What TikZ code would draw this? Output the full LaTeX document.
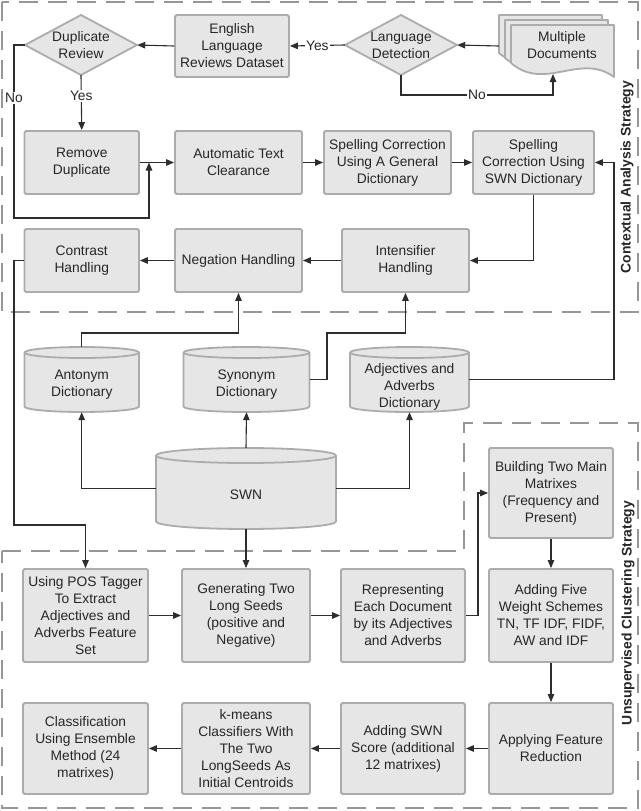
\documentclass[tikz,border=0pt]{standalone}
\usepackage{fontspec}
\setmainfont{Liberation Sans}
\usetikzlibrary{arrows.meta,calc}
\definecolor{boxfill}{RGB}{230,230,230}
\definecolor{boxline}{RGB}{172,172,172}
\definecolor{txt}{RGB}{38,38,38}
\definecolor{arr}{RGB}{45,45,45}
\definecolor{dashc}{RGB}{150,150,150}
\newcommand\mydiam[4]{% cx cy hw hh
  \path[shapeoutline] ({#1-#3},#2) -- (#1,{#2-#4}) -- ({#1+#3},#2) -- (#1,{#2+#4}) -- cycle;}
\newcommand\mycyl[5]{% left top width height ry
  \path[shapeoutline] (#1,{#2+#5}) -- (#1,{#2+#4-#5})
     arc[start angle=180, end angle=0, x radius={#3/2}, y radius=#5]
     -- ({#1+#3},{#2+#5})
     arc[start angle=0, end angle=-180, x radius={#3/2}, y radius=#5] -- cycle;
  \draw[draw=boxline, line width=1.8pt] (#1,{#2+#5}) arc[start angle=180, end angle=0, x radius={#3/2}, y radius=#5];}
\newcommand\mysheet[2]{% x0 y0 (width 103, height 52)
  \path[shapeoutline] (#1,#2) -- ({#1+103},#2) -- ({#1+103},{#2+52})
    .. controls ({#1+69},{#2+27}) and ({#1+34},{#2+67}) .. (#1,{#2+38}) -- cycle;}
\begin{document}
\begin{tikzpicture}[x=1pt,y=-1pt,
  every node/.style={font=\fontsize{13.8}{17}\selectfont, text=txt, align=center, inner sep=0pt},
  box/.style={rectangle, draw=boxline, fill=boxfill, line width=1.8pt, rounded corners=1.5pt},
  hold/.style={rectangle},
  shapeoutline/.style={draw=boxline, fill=boxfill, line width=1.8pt, line join=round},
  conn/.style={draw=arr, line width=1.1pt, -{Triangle[length=8pt,width=6.5pt]}},
  plainline/.style={draw=arr, line width=1.1pt},
  lbl/.style={fill=white, inner sep=1pt},
  region/.style={draw=dashc, line width=2.6pt, dash pattern=on 19pt off 10pt},
  side/.style={font=\fontsize{13.9}{16}\bfseries\selectfont, rotate=90, text=txt}
]
\useasboundingbox (0,0) rectangle (640,811);
\fill[white] (0,0) rectangle (640,811);

% regions
\draw[region] (2,2) rectangle (638,312);
\draw[region] (2,551) -- (464,551) -- (464,423) -- (638,423) -- (638,808) -- (2,808) -- cycle;
\node[side] at (627,177) {Contextual Analysis Strategy};
\node[side] at (628,613) {Unsupervised Clustering Strategy};

% top row
\mydiam{81}{45}{56}{30}
\node[hold, minimum width=112pt, minimum height=60pt] (dup) at (81,45) {Duplicate\\Review};
\node[box, minimum width=114pt, minimum height=62pt] (eng) at (232,46) {English\\Language\\Reviews Dataset};
\mydiam{401}{45}{56}{30}
\node[hold, minimum width=112pt, minimum height=60pt] (lang) at (401,45) {Language\\Detection};
\mysheet{499}{15}
\mysheet{505}{20}
\mysheet{511}{25}
\node[hold, minimum width=115pt, minimum height=62pt] (docs) at (556.5,46) {};
\node at (562,45) {Multiple\\Documents};
\coordinate (docbot) at (553,74);

% second row
\node[box, minimum width=114.5pt, minimum height=63pt] (rem) at (81.75,162.5) {Remove\\Duplicate};
\node[box, minimum width=127pt, minimum height=63pt] (atc) at (238.5,162.5) {Automatic Text\\Clearance};
\node[box, minimum width=127pt, minimum height=63pt] (spg) at (387.5,162.5) {Spelling Correction\\Using A General\\Dictionary};
\node[box, minimum width=121pt, minimum height=63pt] (sps) at (533.5,162.5) {Spelling\\Correction Using\\SWN Dictionary};
\coordinate (junc) at (149,162.5);

% third row
\node[box, minimum width=114.5pt, minimum height=63pt] (con) at (81.75,260.5) {Contrast\\Handling};
\node[box, minimum width=127pt, minimum height=63pt] (neg) at (238.5,260.5) {Negation Handling};
\node[box, minimum width=127pt, minimum height=63pt] (int) at (405.5,260.5) {Intensifier\\Handling};

% dictionaries
\mycyl{24.5}{347}{114.5}{65}{5.5}
\node[hold, minimum width=114.5pt, minimum height=65pt] (ant) at (81.75,379.5) {};
\node at (81.75,385) {Antonym\\Dictionary};
\mycyl{183.5}{347}{126}{65}{5.5}
\node[hold, minimum width=126pt, minimum height=65pt] (syn) at (246.5,379.5) {};
\node at (246.5,385) {Synonym\\Dictionary};
\mycyl{350}{347}{119}{65}{5.5}
\node[hold, minimum width=119pt, minimum height=65pt] (adj) at (409.5,379.5) {};
\node at (409.5,387) {Adjectives and\\Adverbs\\Dictionary};
\mycyl{156}{448}{180}{81}{7.5}
\node[hold, minimum width=180pt, minimum height=81pt] (swn) at (246,488.5) {};
\node at (246,495) {SWN};

% bottom region
\node[box, minimum width=124pt, minimum height=90pt] (bld) at (551,493) {Building Two Main\\Matrixes\\(Frequency and\\Present)};
\node[box, minimum width=125pt, minimum height=93pt] (pos) at (85.5,615.5) {Using POS Tagger\\To Extract\\Adjectives and\\Adverbs Feature\\Set};
\node[box, minimum width=128pt, minimum height=93pt] (gen) at (246,615.5) {Generating Two\\Long Seeds\\(positive and\\Negative)};
\node[box, minimum width=124pt, minimum height=93pt] (rep) at (403,615.5) {Representing\\Each Document\\by its Adjectives\\and Adverbs};
\node[box, minimum width=124pt, minimum height=93pt] (wgt) at (551,615.5) {Adding Five\\Weight Schemes\\TN, TF IDF, FIDF,\\AW and IDF};
\node[box, minimum width=125pt, minimum height=91pt] (cls) at (85.5,748.5) {Classification\\Using Ensemble\\Method (24\\matrixes)};
\node[box, minimum width=128pt, minimum height=91pt] (km) at (246,748.5) {k-means\\Classifiers With\\The Two\\LongSeeds As\\Initial Centroids};
\node[box, minimum width=124pt, minimum height=91pt] (ssc) at (403,748.5) {Adding SWN\\Score (additional\\12 matrixes)};
\node[box, minimum width=124pt, minimum height=91pt] (app) at (551,748.5) {Applying Feature\\Reduction};

% connectors
\draw[conn] (docs.west) -- (lang.east);
\draw[conn] (lang.west) -- node[lbl]{Yes} (eng.east);
\draw[conn] (eng.west) -- (dup.east);
\draw[conn] (dup.south) -- node[lbl, pos=0.38]{Yes} (rem.north);
\draw[conn] (dup.west) -| (14,218) -| (junc);
\node[lbl] at (14,98) {No};
\draw[conn] (lang.south) -- (401,95) -| (docbot);
\node[lbl] at (477,95) {No};
\draw[conn] (rem.east) -- (atc.west);
\draw[conn] (atc.east) -- (spg.west);
\draw[conn] (spg.east) -- (sps.west);
\draw[conn] (sps.south) |- (int.east);
\draw[conn] (int.west) -- (neg.east);
\draw[conn] (neg.west) -- (con.west -| con.east);
\draw[conn] (con.west) -| (14,525) -| (pos.north);
\draw[conn] (ant.north) -- (81.75,333) -| (neg.south);
\draw[conn] (syn.east) -- (327,379.5) -- (327,333) -| (int.south);
\draw[conn] (adj.east) -| (614,162.5) -- (sps.east);
\draw[conn] (swn.west) -| (ant.south);
\draw[conn] (swn.north) -- (syn.south);
\draw[conn] (swn.east) -| (adj.south);
\draw[conn] (swn.south) -- (gen.north);
\draw[conn] (pos.east) -- (gen.west);
\draw[conn] (gen.east) -- (rep.west);
\draw[conn] (rep.east) -- (478,615.5) |- (bld.west);
\draw[conn] (bld.south) -- (wgt.north);
\draw[conn] (wgt.south) -- (app.north);
\draw[conn] (app.west) -- (ssc.east);
\draw[conn] (ssc.west) -- (km.east);
\draw[conn] (km.west) -- (cls.east);
\end{tikzpicture}
\end{document}
